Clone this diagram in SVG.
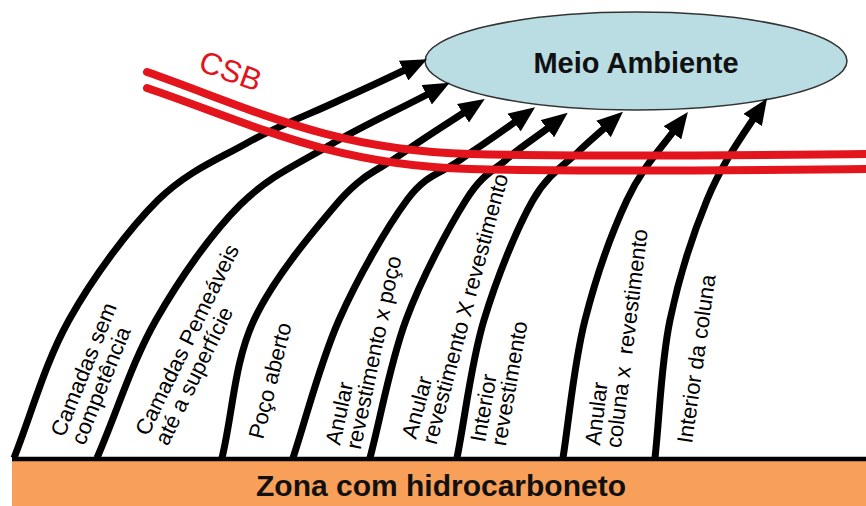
<svg xmlns="http://www.w3.org/2000/svg" width="866" height="506" viewBox="0 0 866 506">
<defs>
<marker id="ah" markerUnits="userSpaceOnUse" markerWidth="26" markerHeight="22" viewBox="0 0 26 22" refX="6" refY="11" orient="auto"><path d="M0,0 L26,11 L0,22 z" fill="#000"/></marker>
<style>
.arrow{fill:none;stroke:#000;stroke-width:7;marker-end:url(#ah)}
.csb{fill:none;stroke:#E3141B;stroke-width:8;stroke-linecap:round}
.lbl{font-family:"Liberation Sans",Arial,sans-serif;font-size:22px;fill:#000}
.title{font-family:"Liberation Sans",Arial,sans-serif;font-weight:bold;fill:#111}
</style>
</defs>
<rect width="866" height="506" fill="#fff"/>

<g id="zona">
<rect x="12" y="461" width="854" height="45" fill="#F8A05A"/>
<line x1="12" y1="459" x2="866" y2="459" stroke="#000" stroke-width="4.5"/>
<text class="title" x="441" y="496" font-size="30" text-anchor="middle">Zona com hidrocarboneto</text>
</g>

<g id="meio-ambiente">
<ellipse cx="636" cy="61" rx="211" ry="49" fill="#B9DDE3" stroke="#333" stroke-width="1.5"/>
<text class="title" x="636" y="73" font-size="29" text-anchor="middle">Meio Ambiente</text>
</g>

<g id="connectors">
<path class="arrow" d="M14,458 C32,412 45,363 69,320 C93,277 128,230 158,200 C188,171 217,160 247,143 C277,126 313,113 340,100 C367,88 386,79 409,68"/>
<path class="arrow" d="M97,458 C117,412 132,362 156,320 C180,278 211,234 240,205 C269,176 298,164 330,145 C362,126 398,110 432,92"/>
<path class="arrow" d="M222,458 C233,412 234,363 254,320 C274,277 316,228 340,200 C364,173 379,170 400,155 C421,140 445,125 468,110"/>
<path class="arrow" d="M293,458 C308,412 320,363 339,320 C358,277 387,227 407,200 C427,173 441,174 460,160 C479,147 500,133 519,119"/>
<path class="arrow" d="M370,458 C382,412 390,363 406,320 C422,277 449,227 466,200 C483,173 494,171 508,158 C522,146 538,136 552,125"/>
<path class="arrow" d="M457,458 C466,412 471,363 484,320 C497,277 517,228 533,200 C549,172 568,163 580,150 C593,138 599,133 608,125"/>
<path class="arrow" d="M563,458 C570,412 574,363 585,320 C596,277 612,232 627,200 C642,168 659,151 676,128"/>
<path class="arrow" d="M655,458 C660,412 661,363 670,320 C679,277 693,234 707,200 C721,166 738,142 756,115"/>
</g>

<g id="labels">
<text class="lbl" transform="translate(64,438) rotate(-68)"><tspan x="0" y="0">Camadas sem</tspan><tspan x="0" dy="22">competência</tspan></text>
<text class="lbl" transform="translate(148,437) rotate(-64)"><tspan x="0" y="0">Camadas Pemeáveis</tspan><tspan x="0" dy="22">até a superfície</tspan></text>
<text class="lbl" transform="translate(263,440) rotate(-76)">Poço aberto</text>
<text class="lbl" transform="translate(340,446) rotate(-78)"><tspan x="0" y="0">Anular</tspan><tspan x="0" dy="21">revestimento x poço</tspan></text>
<text class="lbl" transform="translate(416,440) rotate(-75)"><tspan x="0" y="0">Anular</tspan><tspan x="0" dy="21">revestimento X revestimento</tspan></text>
<text class="lbl" transform="translate(485,443) rotate(-80)"><tspan x="0" y="0">Interior</tspan><tspan x="0" dy="21">revestimento</tspan></text>
<text class="lbl" xml:space="preserve" transform="translate(600,446) rotate(-83)"><tspan x="0" y="0">Anular</tspan><tspan x="0" dy="21">coluna x  revestimento</tspan></text>
<text class="lbl" transform="translate(692,444) rotate(-82)">Interior da coluna</text>
</g>

<g id="csb">
<path class="csb" d="M147,72 C250,108 330,150 470,154 C600,157 750,155 866,154"/>
<path class="csb" d="M147,88 C250,123 330,165 470,169 C600,172 750,170 866,169"/>
<text x="197" y="70" transform="rotate(20 197 70)" font-family="'Liberation Sans',Arial,sans-serif" font-size="31" fill="#E3141B">CSB</text>
</g>
</svg>
